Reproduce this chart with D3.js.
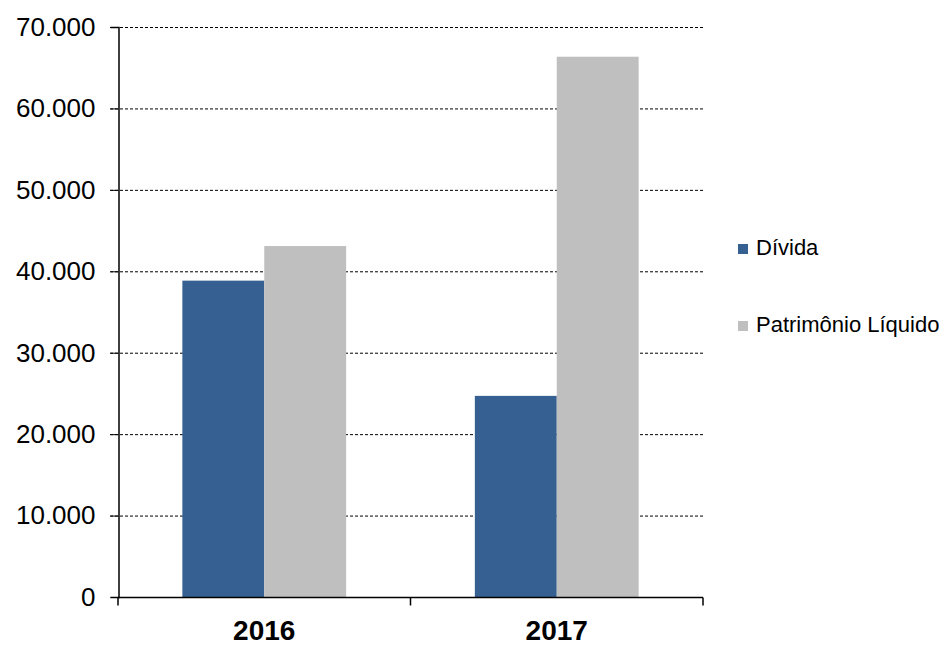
<!DOCTYPE html>
<html>
<head>
<meta charset="utf-8">
<script src="https://cdn.jsdelivr.net/npm/d3@7"></script>
<style>
  body { margin: 0; background: #fff; }
  text { font-family: "Liberation Sans", Arial, sans-serif; }
</style>
</head>
<body>
<div id="chart"></div>
<script>
//// data
var years = ["2016", "2017"];
var seriesNames = ["Dívida", "Patrimônio Líquido"];
var divida = [38850, 24700];
var patrimonio = [43100, 66350];
var yTicks = [0, 10000, 20000, 30000, 40000, 50000, 60000, 70000];
var colors = ["#376092", "#bfbfbf"];

//// chart
var W = 944, H = 646;
var margin = {top: 27, left: 118, plotW: 585, plotH: 570};

var svg = d3.select("#chart")
  .append("svg")
    .attr("width", W)
    .attr("height", H);

var g = svg.append("g")
  .attr("transform", "translate(" + margin.left + "," + margin.top + ")");

var yScale = d3.scaleLinear()
  .domain([0, 70000])
  .range([margin.plotH, 0]);

var xScale = d3.scaleBand()
  .domain(years)
  .range([0, margin.plotW])
  .paddingInner(0.44)
  .paddingOuter(0.22);

var inner = d3.scaleBand()
  .domain(seriesNames)
  .range([0, xScale.bandwidth()]);

var fmt = function(v) {
  return v === 0 ? "0" : d3.format(",")(v).replace(/,/g, ".");
};

//// gridlines
g.selectAll(".grid")
  .data(yTicks.filter(d => d > 0))
  .enter()
  .append("line")
    .attr("x1", -8)
    .attr("x2", margin.plotW)
    .attr("y1", d => yScale(d) + 0.5)
    .attr("y2", d => yScale(d) + 0.5)
    .attr("stroke", "#000")
    .attr("stroke-width", 1)
    .attr("stroke-dasharray", "3,2");

//// bars
var rows = years.map(function(y, i) {
  return {year: y, values: [divida[i], patrimonio[i]]};
});

var groups = g.selectAll(".grp")
  .data(rows)
  .enter()
  .append("g")
    .attr("transform", d => "translate(" + xScale(d.year) + ",0)");

groups.selectAll("rect")
  .data(d => d.values.map((v, k) => ({name: seriesNames[k], value: v, k: k})))
  .enter()
  .append("rect")
    .attr("x", d => inner(d.name))
    .attr("width", inner.bandwidth())
    .attr("y", d => yScale(d.value))
    .attr("height", d => yScale(0) - yScale(d.value))
    .attr("fill", d => colors[d.k]);

//// y axis
var yAxis = g.append("g")
  .attr("transform", "translate(0.5,0)")
  .call(d3.axisLeft(yScale)
    .tickValues(yTicks)
    .tickFormat(fmt)
    .tickSize(8)
    .tickPadding(15));
yAxis.select(".domain").attr("stroke", "#000").attr("stroke-width", 1.5);
yAxis.selectAll(".tick line").attr("stroke", "#000");
yAxis.selectAll(".tick text")
  .attr("font-size", "26px")
  .attr("fill", "#000")
  .style("font-family", "'Liberation Sans', Arial, sans-serif");

//// x axis
var xAxis = g.append("g")
  .attr("transform", "translate(0," + (margin.plotH + 0.5) + ")");
xAxis.append("line")
  .attr("x1", 0).attr("x2", margin.plotW)
  .attr("stroke", "#000").attr("stroke-width", 1.5);
xAxis.selectAll(".xt")
  .data([0, margin.plotW / 2, margin.plotW])
  .enter()
  .append("line")
    .attr("x1", d => d).attr("x2", d => d)
    .attr("y1", 0).attr("y2", 8)
    .attr("stroke", "#000").attr("stroke-width", 1.5);
xAxis.selectAll(".xl")
  .data(years)
  .enter()
  .append("text")
    .attr("x", d => xScale(d) + xScale.bandwidth() / 2)
    .attr("y", 42)
    .attr("text-anchor", "middle")
    .attr("font-size", "28px")
    .attr("font-weight", "bold")
    .text(d => d);

//// legend
var legend = svg.selectAll(".leg")
  .data(seriesNames)
  .enter()
  .append("g")
    .attr("transform", (d, i) => "translate(738," + (255 + i * 77) + ")");
legend.append("rect")
  .attr("x", 0).attr("y", -11)
  .attr("width", 10).attr("height", 10)
  .attr("fill", (d, i) => colors[i]);
legend.append("text")
  .attr("x", 18)
  .attr("y", 0)
  .attr("font-size", "22px")
  .attr("fill", "#000")
  .text(d => d);
</script>
</body>
</html>
